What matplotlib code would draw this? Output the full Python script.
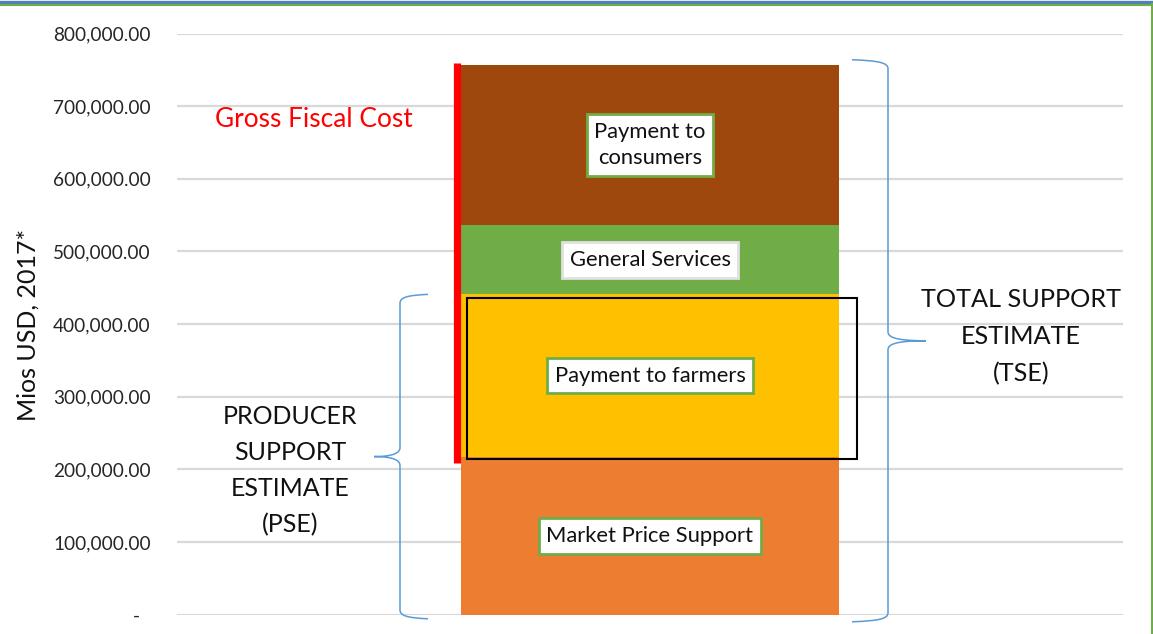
import matplotlib
matplotlib.use("Agg")
import matplotlib.pyplot as plt
from matplotlib.patches import Rectangle, PathPatch
from matplotlib.path import Path
from matplotlib.transforms import IdentityTransform
from matplotlib.lines import Line2D

plt.rcParams['font.family'] = ['Lato', 'DejaVu Sans']

# ---- data ----
categories = ["Market Price Support", "Payment to farmers", "General Services", "Payment to\nconsumers"]
values = [217000, 224000, 95000, 221000]
colors = ["#ED7D31", "#FFC000", "#70AD47", "#9E480E"]
ytick_values = [0, 100000, 200000, 300000, 400000, 500000, 600000, 700000, 800000]
ytick_labels = ["-\u2007", "100,000.00", "200,000.00", "300,000.00", "400,000.00",
                "500,000.00", "600,000.00", "700,000.00", "800,000.00"]
gross_fiscal_cost = [208500, 759000]   # span of the red bar
y_label = "Mios USD, 2017*"

W, H = 1153, 634
fig = plt.figure(figsize=(W / 100, H / 100), dpi=100)
ax = fig.add_axes([177 / W, (H - 614.8) / H, 946 / W, 581.3 / H])
ax.set_xlim(-1, 1)
ax.set_ylim(0, 800000)
for s in ax.spines.values():
    s.set_visible(False)
ax.set_xticks([])
ax.set_yticks(ytick_values)
ax.set_yticklabels(ytick_labels, fontsize=13.7, color="#262626")
ax.tick_params(axis='y', length=0, pad=19)
ax.grid(axis='y', color="#D9D9D9", linewidth=1.6)
ax.set_axisbelow(True)

# stacked bar
bottom = 0
mids = []
for v, c in zip(values, colors):
    ax.bar(0, v, width=0.8, bottom=bottom, color=c, zorder=2)
    mids.append(bottom + v / 2)
    bottom += v
total = bottom

# segment labels
for lab, m, i in zip(categories, mids, range(len(categories))):
    ec = "#70AD47" if i != 2 else "#E0E0E0"
    ax.text(0, m, lab, ha='center', va='center', fontsize=15.8, color="#111111",
            zorder=5, linespacing=1.42,
            bbox=dict(boxstyle="square,pad=0.35", fc="white", ec=ec, lw=2))

# red gross fiscal cost line
ax.plot([-0.409, -0.409], gross_fiscal_cost, color="#FF0000", lw=5.2,
        solid_capstyle='butt', zorder=4)
ax.text(-0.71, 682000, "Gross Fiscal Cost", color="#FF0000", fontsize=18.9,
        ha='center', va='center')

# black rectangle around payment to farmers
ax.add_patch(Rectangle((-0.3875, values[0] - 3000), 0.826, values[1] - 2500,
                       fill=False, ec="black", lw=1.5, zorder=4))

# braces (drawn in display pixels)
fig.canvas.draw()
def disp(xd, yd):
    return ax.transData.transform((xd, yd))

def brace(x_spine, y_top, y_bot, d, t, c=9):
    xm = x_spine
    ymid = (y_top + y_bot) / 2
    sgn = 1 if d > 0 else -1
    xe = xm + d
    xt = xm - sgn * abs(t)
    verts = [
        (xe, y_top),
        (xm + d * 0.25, y_top - 1), (xm, y_top - 3), (xm, y_top - c),
        (xm, ymid + c),
        (xm, ymid + 4), (xm - sgn * 6, ymid), (xt, ymid),
        (xm - sgn * 6, ymid), (xm, ymid - 4), (xm, ymid - c),
        (xm, y_bot + c),
        (xm, y_bot + 3), (xm + d * 0.25, y_bot + 1), (xe, y_bot),
    ]
    codes = [Path.MOVETO,
             Path.CURVE4, Path.CURVE4, Path.CURVE4,
             Path.LINETO,
             Path.CURVE4, Path.CURVE4, Path.CURVE4,
             Path.CURVE4, Path.CURVE4, Path.CURVE4,
             Path.LINETO,
             Path.CURVE4, Path.CURVE4, Path.CURVE4]
    p = PathPatch(Path(verts, codes), fill=False, ec="#5B9BD5", lw=1.1,
                  transform=IdentityTransform(), zorder=6)
    fig.add_artist(p)

def to_disp_y(val):
    return disp(0, val)[1]

pse_top = values[0] + values[1]
brace(400, to_disp_y(pse_top), to_disp_y(0) - 4, 28, 26)
brace(888, to_disp_y(total) + 5, to_disp_y(0) - 7, -36, 38)

ax.text(-0.761, 198600, "PRODUCER\nSUPPORT\nESTIMATE\n(PSE)", ha='center', va='center',
        fontsize=18, linespacing=1.68, color="#111111")
ax.text(0.784, 383000, "TOTAL SUPPORT\nESTIMATE\n(TSE)", ha='center', va='center',
        fontsize=18.2, linespacing=1.72, color="#111111")

fig.text(28 / W, 1 - 325 / H, y_label, rotation=90, ha='center', va='center',
         fontsize=18, color="#111111")

# frame lines (top blue/green, right green)
fig.add_artist(Line2D([0, 1], [1 - 1.5 / H, 1 - 1.5 / H], color="#4F81BD", lw=2.4,
                      transform=fig.transFigure))
fig.add_artist(Line2D([0, 1], [1 - 4.5 / H, 1 - 4.5 / H], color="#70AD47", lw=1.5,
                      transform=fig.transFigure))
fig.add_artist(Line2D([1 - 1.5 / W, 1 - 1.5 / W], [0, 1 - 4 / H], color="#70AD47", lw=1.5,
                      transform=fig.transFigure))

fig.savefig("out.png", dpi=100)
